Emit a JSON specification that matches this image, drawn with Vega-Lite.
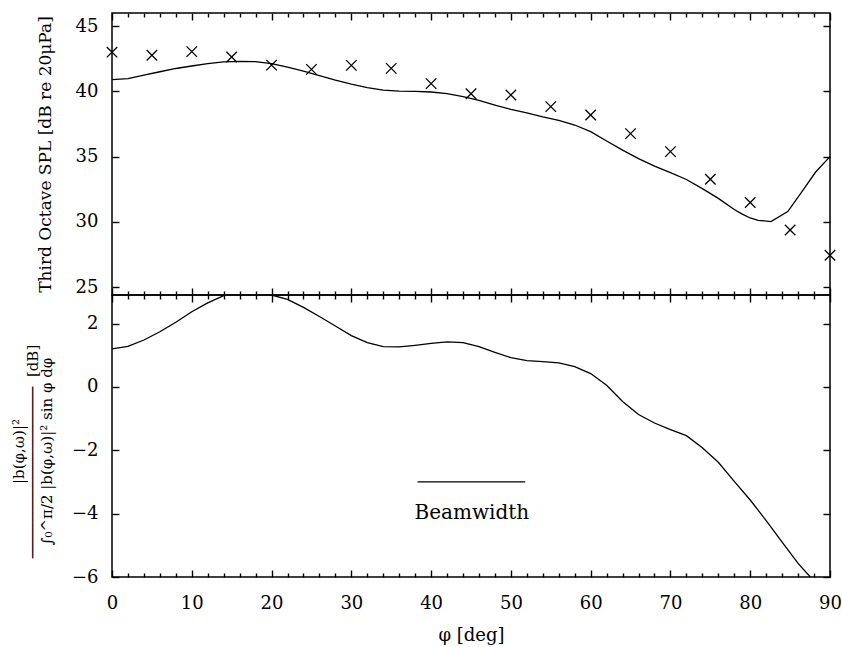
{
  "$schema": "https://vega.github.io/schema/vega-lite/v6.json",
  "background": "white",
  "padding": {"left": 10, "top": 11, "right": 5, "bottom": 5},
  "bounds": "flush",
  "spacing": 0,
  "config": {
    "view": {"stroke": "black", "strokeWidth": 1.5},
    "font": "DejaVu Serif",
    "axis": {
      "domain": false, "ticks": true, "tickColor": "black", "tickWidth": 1.4, "tickOpacity": 1, "labelFlush": false,
      "labelFont": "DejaVu Serif", "labelFontSize": 18, "labelColor": "black",
      "titleFont": "DejaVu Serif", "titleColor": "black", "titleFontWeight": "normal", "grid": false
    }
  },
  "datasets": {
    "spl_model": [
      {"phi": 0, "spl": 40.9}, {"phi": 2, "spl": 40.97}, {"phi": 4, "spl": 41.25}, {"phi": 6, "spl": 41.5},
      {"phi": 8, "spl": 41.75}, {"phi": 10, "spl": 41.94}, {"phi": 12, "spl": 42.12}, {"phi": 14, "spl": 42.25},
      {"phi": 16, "spl": 42.3}, {"phi": 18, "spl": 42.27}, {"phi": 20, "spl": 42.12}, {"phi": 22, "spl": 41.86},
      {"phi": 24, "spl": 41.55}, {"phi": 26, "spl": 41.2}, {"phi": 28, "spl": 40.86}, {"phi": 30, "spl": 40.55},
      {"phi": 32, "spl": 40.28}, {"phi": 34, "spl": 40.1}, {"phi": 36, "spl": 40.02}, {"phi": 38, "spl": 39.99},
      {"phi": 40, "spl": 39.95}, {"phi": 42, "spl": 39.83}, {"phi": 44, "spl": 39.6}, {"phi": 46, "spl": 39.3},
      {"phi": 48, "spl": 38.95}, {"phi": 50, "spl": 38.62}, {"phi": 52, "spl": 38.35}, {"phi": 54, "spl": 38.05},
      {"phi": 56, "spl": 37.78}, {"phi": 58, "spl": 37.42}, {"phi": 60, "spl": 36.91}, {"phi": 62, "spl": 36.2},
      {"phi": 64, "spl": 35.5}, {"phi": 66, "spl": 34.85}, {"phi": 68, "spl": 34.27}, {"phi": 70, "spl": 33.78},
      {"phi": 72, "spl": 33.25}, {"phi": 74, "spl": 32.55}, {"phi": 76, "spl": 31.8}, {"phi": 78, "spl": 30.95},
      {"phi": 79, "spl": 30.6}, {"phi": 80, "spl": 30.3}, {"phi": 81, "spl": 30.12}, {"phi": 82.6, "spl": 30.02},
      {"phi": 84.7, "spl": 30.79}, {"phi": 86.4, "spl": 32.24}, {"phi": 88.2, "spl": 33.82}, {"phi": 90, "spl": 35.0}
    ],
    "spl_meas": [
      {"phi": 0, "spl": 43.0}, {"phi": 5, "spl": 42.76}, {"phi": 10, "spl": 43.04}, {"phi": 15, "spl": 42.63},
      {"phi": 20, "spl": 42.01}, {"phi": 25, "spl": 41.68}, {"phi": 30, "spl": 41.99}, {"phi": 35, "spl": 41.76},
      {"phi": 40, "spl": 40.59}, {"phi": 45, "spl": 39.82}, {"phi": 50, "spl": 39.72}, {"phi": 55, "spl": 38.83},
      {"phi": 60, "spl": 38.19}, {"phi": 65, "spl": 36.76}, {"phi": 70, "spl": 35.38}, {"phi": 75, "spl": 33.26},
      {"phi": 80, "spl": 31.48}, {"phi": 85, "spl": 29.38}, {"phi": 90, "spl": 27.44}
    ],
    "dir": [
      {"phi": 0, "db": 1.2}, {"phi": 2, "db": 1.28}, {"phi": 4, "db": 1.48}, {"phi": 6, "db": 1.74},
      {"phi": 8, "db": 2.04}, {"phi": 10, "db": 2.37}, {"phi": 12, "db": 2.65}, {"phi": 14, "db": 2.88},
      {"phi": 16, "db": 3.0}, {"phi": 18, "db": 3.02}, {"phi": 20, "db": 2.9}, {"phi": 22, "db": 2.76},
      {"phi": 24, "db": 2.51}, {"phi": 26, "db": 2.22}, {"phi": 28, "db": 1.92}, {"phi": 30, "db": 1.62},
      {"phi": 32, "db": 1.4}, {"phi": 34, "db": 1.27}, {"phi": 36, "db": 1.26}, {"phi": 38, "db": 1.31},
      {"phi": 40, "db": 1.37}, {"phi": 42, "db": 1.42}, {"phi": 44, "db": 1.4}, {"phi": 46, "db": 1.27},
      {"phi": 48, "db": 1.09}, {"phi": 50, "db": 0.92}, {"phi": 52, "db": 0.83}, {"phi": 54, "db": 0.8},
      {"phi": 56, "db": 0.76}, {"phi": 58, "db": 0.64}, {"phi": 60, "db": 0.42}, {"phi": 62, "db": 0.05},
      {"phi": 64, "db": -0.46}, {"phi": 66, "db": -0.87}, {"phi": 68, "db": -1.14}, {"phi": 70, "db": -1.35},
      {"phi": 72, "db": -1.54}, {"phi": 74, "db": -1.92}, {"phi": 76, "db": -2.38}, {"phi": 78, "db": -2.98},
      {"phi": 80, "db": -3.57}, {"phi": 82, "db": -4.22}, {"phi": 84, "db": -4.9}, {"phi": 86, "db": -5.57},
      {"phi": 88, "db": -6.13}, {"phi": 90, "db": -6.9}
    ],
    "beam": [{"x1": 38.3, "x2": 51.8, "y": -3.0}],
    "beamlabel": [{"x": 45.1, "y": -3.97, "text": "Beamwidth"}]
  },
  "vconcat": [
    {
      "width": 718,
      "height": 282,
      "layer": [
        {
          "data": {"name": "spl_model"},
          "mark": {"type": "line", "color": "black", "strokeWidth": 1.3, "clip": true},
          "encoding": {
            "x": {
              "field": "phi", "type": "quantitative",
              "scale": {"domain": [0, 90], "nice": false, "zero": false},
              "axis": {"orient": "bottom", "title": null, "labels": false, "values": [0,10,20,30,40,50,60,70,80,90], "offset": -7, "ticks": true, "tickSize": 7}
            },
            "y": {
              "field": "spl", "type": "quantitative",
              "scale": {"domain": [24.4, 46], "nice": false, "zero": false},
              "axis": {
                "orient": "left", "values": [25, 30, 35, 40, 45], "offset": -7, "ticks": true, "tickSize": 7, "labelPadding": 14,
                "title": "Third Octave SPL [dB re 20μPa]", "titleFontSize": 17,
                "titleX": -74, "titleY": 141, "titleBaseline": "middle", "titleAlign": "center", "titleAngle": -90
              }
            }
          }
        },
        {
          "data": {"name": "spl_meas"},
          "mark": {"type": "point", "shape": "M-1,-1L1,1M-1,1L1,-1", "size": 110, "filled": false, "color": "black", "strokeWidth": 1.3, "opacity": 1},
          "encoding": {
            "x": {
              "field": "phi", "type": "quantitative",
              "scale": {"domain": [0, 90], "nice": false, "zero": false},
              "axis": {"orient": "top", "title": null, "labels": false, "values": [0,10,20,30,40,50,60,70,80,90], "offset": -7, "ticks": true, "tickSize": 7}
            },
            "y": {
              "field": "spl", "type": "quantitative",
              "scale": {"domain": [24.4, 46], "nice": false, "zero": false},
              "axis": {"orient": "right", "values": [25, 30, 35, 40, 45], "offset": -7, "ticks": true, "tickSize": 7, "labels": false, "title": null}
            }
          }
        },
        {
          "data": {"name": "spl_meas"},
          "mark": {"type": "point", "opacity": 0},
          "encoding": {
            "x": {
              "field": "phi", "type": "quantitative",
              "scale": {"domain": [0, 90], "nice": false, "zero": false},
              "axis": {"orient": "bottom", "title": null, "labels": false, "values": [2,4,6,8,12,14,16,18,22,24,26,28,32,34,36,38,42,44,46,48,52,54,56,58,62,64,66,68,72,74,76,78,82,84,86,88], "offset": -4, "ticks": true, "tickSize": 4}
            },
            "y": {"field": "spl", "type": "quantitative", "scale": {"domain": [24.4, 46], "nice": false, "zero": false}, "axis": null}
          }
        },
        {
          "data": {"name": "spl_meas"},
          "mark": {"type": "point", "opacity": 0},
          "encoding": {
            "x": {
              "field": "phi", "type": "quantitative",
              "scale": {"domain": [0, 90], "nice": false, "zero": false},
              "axis": {"orient": "top", "title": null, "labels": false, "values": [2,4,6,8,12,14,16,18,22,24,26,28,32,34,36,38,42,44,46,48,52,54,56,58,62,64,66,68,72,74,76,78,82,84,86,88], "offset": -4, "ticks": true, "tickSize": 4}
            },
            "y": {"field": "spl", "type": "quantitative", "scale": {"domain": [24.4, 46], "nice": false, "zero": false}, "axis": null}
          }
        }
      ],
      "resolve": {"axis": {"x": "independent", "y": "independent"}}
    },
    {
      "width": 718,
      "height": 282,
      "layer": [
        {
          "data": {"name": "dir"},
          "mark": {"type": "line", "color": "black", "strokeWidth": 1.3, "clip": true},
          "encoding": {
            "x": {
              "field": "phi", "type": "quantitative",
              "scale": {"domain": [0, 90], "nice": false, "zero": false},
              "axis": {
                "orient": "bottom", "title": "φ [deg]", "titleFontSize": 18, "titlePadding": 14,
                "values": [0,10,20,30,40,50,60,70,80,90], "offset": -7, "ticks": true, "tickSize": 7, "labelPadding": 17
              }
            },
            "y": {
              "field": "db", "type": "quantitative",
              "scale": {"domain": [-6, 2.9], "nice": false, "zero": false},
              "axis": {
                "orient": "left", "values": [-6, -4, -2, 0, 2], "offset": -7, "ticks": true, "tickSize": 7, "labelPadding": 14,
                "title": ["|b(φ,ω)|²", "\u00a0\u00a0\u00a0\u00a0\u00a0\u00a0\u00a0\u00a0\u00a0───────────────────\u00a0\u00a0[dB]", "∫₀^π/2 |b(φ,ω)|² sin φ dφ"],
                "titleFontSize": 15, "titleLineHeight": 14,
                "titleX": -101, "titleY": 156, "titleBaseline": "middle", "titleAlign": "center", "titleAngle": -90
              }
            }
          }
        },
        {
          "data": {"name": "beam"},
          "mark": {"type": "rule", "color": "black", "strokeWidth": 1.3},
          "encoding": {
            "x": {
              "field": "x1", "type": "quantitative",
              "scale": {"domain": [0, 90], "nice": false, "zero": false},
              "axis": {"orient": "top", "title": null, "labels": false, "values": [0,10,20,30,40,50,60,70,80,90], "offset": -7, "ticks": true, "tickSize": 7}
            },
            "x2": {"field": "x2"},
            "y": {
              "field": "y", "type": "quantitative",
              "scale": {"domain": [-6, 2.9], "nice": false, "zero": false},
              "axis": {"orient": "right", "values": [-6, -4, -2, 0, 2], "offset": -7, "ticks": true, "tickSize": 7, "labels": false, "title": null}
            }
          }
        },
        {
          "data": {"name": "beamlabel"},
          "mark": {"type": "text", "font": "DejaVu Serif", "fontSize": 20, "color": "black", "baseline": "middle", "align": "center"},
          "encoding": {
            "x": {
              "field": "x", "type": "quantitative",
              "scale": {"domain": [0, 90], "nice": false, "zero": false},
              "axis": {"orient": "bottom", "title": null, "labels": false, "values": [2,4,6,8,12,14,16,18,22,24,26,28,32,34,36,38,42,44,46,48,52,54,56,58,62,64,66,68,72,74,76,78,82,84,86,88], "offset": -4, "ticks": true, "tickSize": 4}
            },
            "y": {"field": "y", "type": "quantitative", "scale": {"domain": [-6, 2.9], "nice": false, "zero": false}, "axis": null},
            "text": {"field": "text"}
          }
        },
        {
          "data": {"name": "dir"},
          "mark": {"type": "point", "opacity": 0},
          "encoding": {
            "x": {
              "field": "phi", "type": "quantitative",
              "scale": {"domain": [0, 90], "nice": false, "zero": false},
              "axis": {"orient": "top", "title": null, "labels": false, "values": [2,4,6,8,12,14,16,18,22,24,26,28,32,34,36,38,42,44,46,48,52,54,56,58,62,64,66,68,72,74,76,78,82,84,86,88], "offset": -4, "ticks": true, "tickSize": 4}
            },
            "y": {"field": "db", "type": "quantitative", "scale": {"domain": [-6, 2.9], "nice": false, "zero": false}, "axis": null}
          }
        }
      ],
      "resolve": {"axis": {"x": "independent", "y": "independent"}}
    }
  ]
}
